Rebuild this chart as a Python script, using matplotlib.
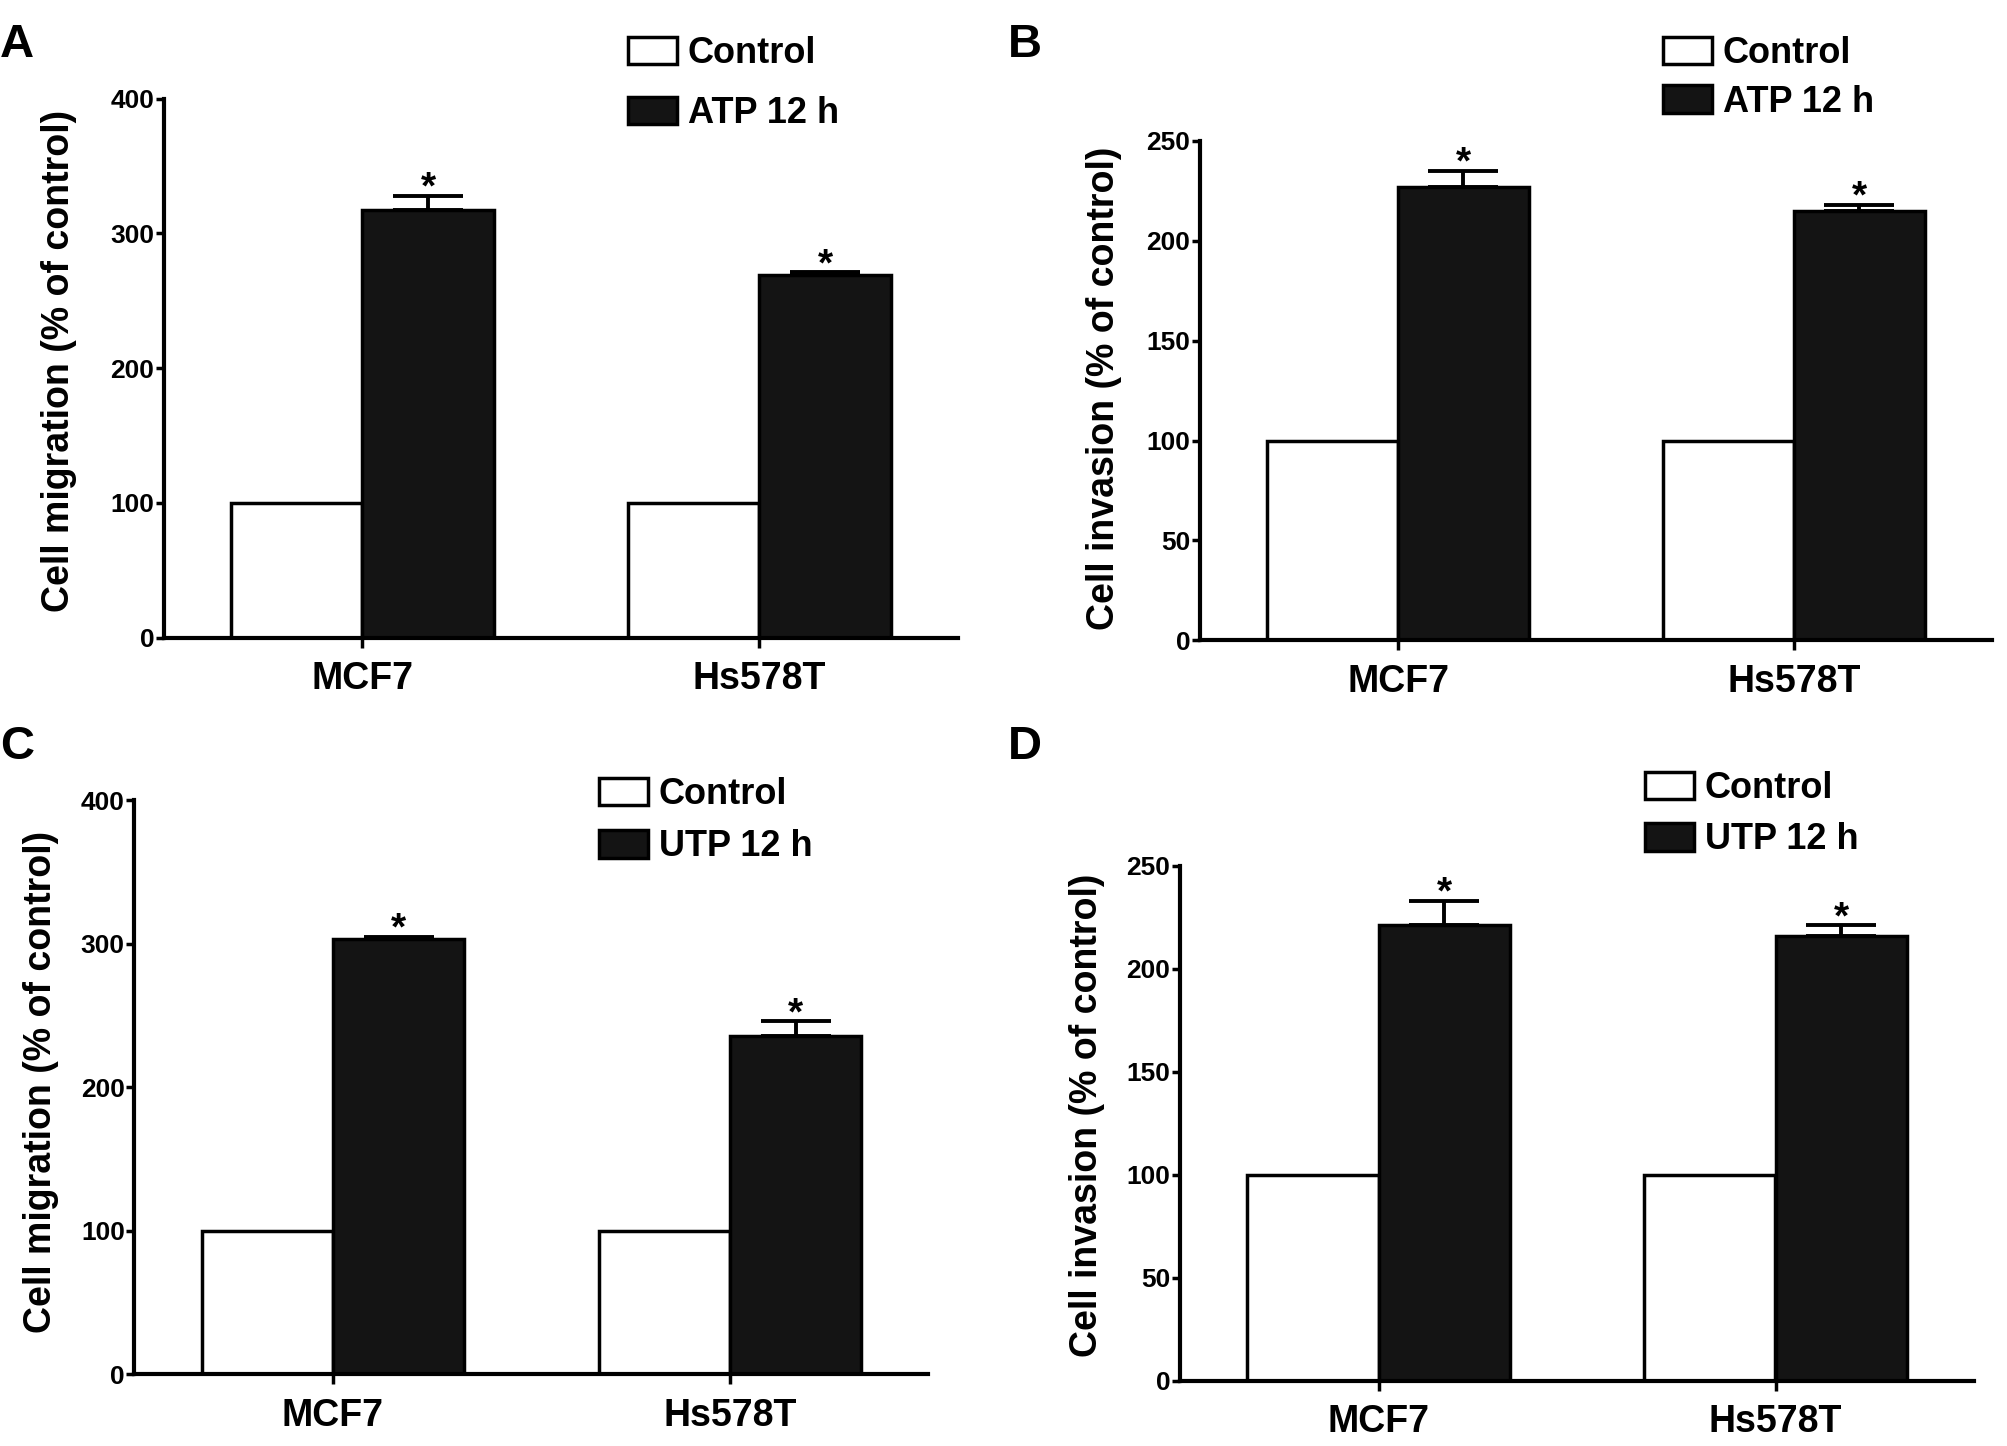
import matplotlib
matplotlib.use("Agg")
import matplotlib.pyplot as plt
from matplotlib.patches import Patch

plt.rcParams["font.family"] = ["Liberation Sans", "DejaVu Sans"]
plt.rcParams["font.weight"] = "bold"

cells = ["MCF7", "Hs578T"]

control_a = [100, 100]
atp_mig = [317, 269]
atp_mig_err = [11, 2]

control_b = [100, 100]
atp_inv = [227, 215]
atp_inv_err = [8, 3]

control_c = [100, 100]
utp_mig = [303, 236]
utp_mig_err = [2, 10]

control_d = [100, 100]
utp_inv = [221, 216]
utp_inv_err = [12, 5]

W, H = 2008, 1446
fig = plt.figure(figsize=(W / 100, H / 100), dpi=100)


def px_axes(left, top, right, bottom):
    return fig.add_axes([left / W, 1 - bottom / H, (right - left) / W, (bottom - top) / H])


def panel(ax, ctrl, treat, err, treat_name, ylabel, ymax, ystep, label_xy, leg_xy, leg_space,
          letter, letter_xy):
    x = range(len(cells))
    w = 0.33
    xc = [i - w / 2 for i in x]
    xt = [i + w / 2 for i in x]
    ax.bar(xc, ctrl, width=w, color="white", edgecolor="black", linewidth=2.5, zorder=2)
    ax.bar(xt, treat, width=w, color="#141414", edgecolor="black", linewidth=2.5, zorder=2)
    ax.errorbar(xt, treat, yerr=[[0] * len(err), err], fmt="none", ecolor="black",
                elinewidth=2.8, capsize=25, capthick=2.8, zorder=1)
    for xi, v, e in zip(xt, treat, err):
        ax.annotate("*", (xi, v + e), xytext=(0, -8), textcoords="offset points",
                    ha="center", va="bottom", fontsize=28, fontweight="bold")
    ax.set_xlim(-0.5, 1.5)
    ax.set_ylim(0, ymax)
    ax.set_yticks(range(0, ymax + 1, ystep))
    ax.set_xticks(list(x))
    ax.set_xticklabels(cells, fontsize=27, fontweight="bold")
    for t in ax.get_yticklabels():
        t.set_fontsize(19)
        t.set_fontweight("bold")
    ax.spines["top"].set_visible(False)
    ax.spines["right"].set_visible(False)
    ax.spines["left"].set_linewidth(3)
    ax.spines["bottom"].set_linewidth(3)
    ax.tick_params(axis="y", length=6, width=2.5, pad=1)
    ax.tick_params(axis="x", length=7, width=2.5, pad=10)
    ax.set_ylabel(ylabel, fontsize=27, fontweight="bold")
    ax.yaxis.set_label_coords(label_xy[0] / W, 1 - label_xy[1] / H, transform=fig.transFigure)
    handles = [Patch(facecolor="white", edgecolor="black", linewidth=2.5),
               Patch(facecolor="#141414", edgecolor="black", linewidth=2.5)]
    ax.legend(handles, ["Control", treat_name], loc="upper left",
              bbox_to_anchor=(leg_xy[0] / W, 1 - leg_xy[1] / H), bbox_transform=fig.transFigure,
              frameon=False, prop={"weight": "bold", "size": 26},
              handlelength=1.35, handleheight=0.8, handletextpad=0.3,
              labelspacing=leg_space, borderpad=0, borderaxespad=0)
    fig.text(letter_xy[0] / W, 1 - letter_xy[1] / H, letter, fontsize=34,
             fontweight="bold", ha="left", va="center")


ax_a = px_axes(164, 98.6, 958, 637.8)
panel(ax_a, control_a, atp_mig, atp_mig_err, "ATP 12 h", "Cell migration (% of control)",
      400, 100, (77, 361), (628, 36), 0.69, "A", (0, 45))

ax_b = px_axes(1200, 140.9, 1992, 640.3)
panel(ax_b, control_b, atp_inv, atp_inv_err, "ATP 12 h", "Cell invasion (% of control)",
      250, 50, (1122, 388), (1663, 36), 0.38, "B", (1008, 45))

ax_c = px_axes(134.5, 800.4, 928.5, 1374)
panel(ax_c, control_c, utp_mig, utp_mig_err, "UTP 12 h", "Cell migration (% of control)",
      400, 100, (59, 1082), (599, 777), 0.48, "C", (0, 747))

ax_d = px_axes(1180, 865.7, 1974, 1380.5)
panel(ax_d, control_d, utp_inv, utp_inv_err, "UTP 12 h", "Cell invasion (% of control)",
      250, 50, (1105, 1115), (1645, 771), 0.45, "D", (1008, 747))

fig.savefig("out.png", dpi=100)
